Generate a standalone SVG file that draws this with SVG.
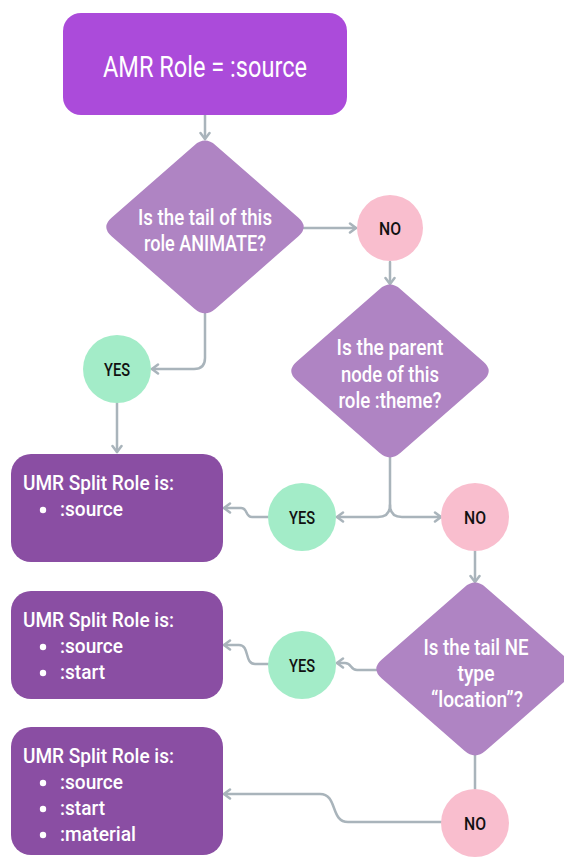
<svg xmlns="http://www.w3.org/2000/svg" width="564" height="857" viewBox="0 0 564 857">
<style>
.conn{fill:none;stroke:#A9B4BB;stroke-width:2.5;stroke-linecap:round;stroke-linejoin:round}
.top{fill:#AB4BDA}
.dia{fill:#AF84C3}
.res{fill:#8A4EA3}
.yes{fill:#A3ECC8}
.no{fill:#F9BECE}
.wt{fill:#FFFFFF;font-family:Roboto,"Liberation Sans",sans-serif;font-size:21.5px;font-weight:500;text-anchor:middle}
.big{font-size:29px;font-weight:400}
.bt{fill:#FFFFFF;font-family:Roboto,"Liberation Sans",sans-serif;font-size:21px;font-weight:500}
.lbl{fill:#111111;font-family:Roboto,"Liberation Sans",sans-serif;font-size:18.5px;font-weight:500;text-anchor:middle}
.dot{fill:#FFFFFF}
</style>
<defs>
<path id="diamond" d="M-10.54,-81.78 Q0,-91 10.54,-81.78 L93.46,-9.22 Q104,0 93.46,9.22 L10.54,81.78 Q0,91 -10.54,81.78 L-93.46,9.22 Q-104,0 -93.46,-9.22 Z"/>
<marker id="arr" markerUnits="userSpaceOnUse" markerWidth="12" markerHeight="12" viewBox="0 0 12 12" refX="10" refY="6" orient="auto">
<path d="M4,1.5 L10,6 L4,10.5" fill="none" stroke="#A9B4BB" stroke-width="2.5" stroke-linecap="round" stroke-linejoin="round"/>
</marker>
</defs>

<g id="connectors">
<path class="conn" d="M205,115 L205,139" marker-end="url(#arr)"/>
<path class="conn" d="M304,228 L356,228" marker-end="url(#arr)"/>
<path class="conn" d="M390,262 L390,284" marker-end="url(#arr)"/>
<path class="conn" d="M205,314 L205,358 Q205,369 194,369 L152,369" marker-end="url(#arr)"/>
<path class="conn" d="M117,403 L117,452" marker-end="url(#arr)"/>
<path class="conn" d="M390,457 L390,505 Q390,517 378,517 L337,517" marker-end="url(#arr)"/>
<path class="conn" d="M390,505 Q390,517 402,517 L441,517" marker-end="url(#arr)"/>
<path class="conn" d="M268,517 L252,517 C245,517 248,508 241,508 L224,508" marker-end="url(#arr)"/>
<path class="conn" d="M475,551 L475,582" marker-end="url(#arr)"/>
<path class="conn" d="M376,670 L357,670 C350,670 352,663 345,663 L337,663" marker-end="url(#arr)"/>
<path class="conn" d="M268,664 L255,664 C244,664 250,645 239,645 L224,645" marker-end="url(#arr)"/>
<path class="conn" d="M475,755 L475,789"/>
<path class="conn" d="M441,822 L348,822 C330,822 338,794 320,794 L224,794" marker-end="url(#arr)"/>
</g>

<g id="start">
<rect class="top" x="63" y="13" width="284" height="102" rx="18"/>
<text class="wt big" x="205" y="77" textLength="204" lengthAdjust="spacingAndGlyphs">AMR Role = :source</text>
</g>

<g id="q1">
<use href="#diamond" class="dia" transform="translate(205,227)"/>
<text class="wt" x="205" y="225" textLength="134" lengthAdjust="spacingAndGlyphs">Is the tail of this</text>
<text class="wt" x="205" y="251" textLength="122" lengthAdjust="spacingAndGlyphs">role ANIMATE?</text>
</g>

<g id="no1">
<circle class="no" cx="390" cy="228" r="33"/>
<text class="lbl" x="390" y="234.5" textLength="22" lengthAdjust="spacingAndGlyphs">NO</text>
</g>

<g id="yes1">
<circle class="yes" cx="117" cy="369" r="34"/>
<text class="lbl" x="117" y="375.5" textLength="26" lengthAdjust="spacingAndGlyphs">YES</text>
</g>

<g id="q2">
<use href="#diamond" class="dia" transform="translate(390,371)"/>
<text class="wt" x="390" y="355" textLength="107" lengthAdjust="spacingAndGlyphs">Is the parent</text>
<text class="wt" x="390" y="382" textLength="98" lengthAdjust="spacingAndGlyphs">node of this</text>
<text class="wt" x="390" y="408" textLength="103" lengthAdjust="spacingAndGlyphs">role :theme?</text>
</g>

<g id="result1">
<rect class="res" x="11" y="454" width="212" height="108" rx="20"/>
<text class="bt" x="23" y="490" textLength="151" lengthAdjust="spacingAndGlyphs">UMR Split Role is:</text>
<circle class="dot" cx="43" cy="510" r="3.2"/>
<text class="bt" x="60" y="516" textLength="63" lengthAdjust="spacingAndGlyphs">:source</text>
</g>

<g id="yes2">
<circle class="yes" cx="302" cy="517" r="34"/>
<text class="lbl" x="302" y="523.5" textLength="26" lengthAdjust="spacingAndGlyphs">YES</text>
</g>

<g id="no2">
<circle class="no" cx="475" cy="517" r="34"/>
<text class="lbl" x="475" y="523.5" textLength="22" lengthAdjust="spacingAndGlyphs">NO</text>
</g>

<g id="q3">
<use href="#diamond" class="dia" transform="translate(475,669)"/>
<text class="wt" x="476" y="655" textLength="105" lengthAdjust="spacingAndGlyphs">Is the tail NE</text>
<text class="wt" x="476" y="681" textLength="37" lengthAdjust="spacingAndGlyphs">type</text>
<text class="wt" x="477" y="707" textLength="92" lengthAdjust="spacingAndGlyphs">“location”?</text>
</g>

<g id="result2">
<rect class="res" x="11" y="591" width="212" height="108" rx="20"/>
<text class="bt" x="23" y="627" textLength="151" lengthAdjust="spacingAndGlyphs">UMR Split Role is:</text>
<circle class="dot" cx="43" cy="647" r="3.2"/>
<text class="bt" x="60" y="653" textLength="63" lengthAdjust="spacingAndGlyphs">:source</text>
<circle class="dot" cx="43" cy="673" r="3.2"/>
<text class="bt" x="60" y="679" textLength="45" lengthAdjust="spacingAndGlyphs">:start</text>
</g>

<g id="yes3">
<circle class="yes" cx="302" cy="665" r="34"/>
<text class="lbl" x="302" y="671.5" textLength="26" lengthAdjust="spacingAndGlyphs">YES</text>
</g>

<g id="no3">
<circle class="no" cx="475" cy="823" r="34"/>
<text class="lbl" x="475" y="829.5" textLength="22" lengthAdjust="spacingAndGlyphs">NO</text>
</g>

<g id="result3">
<rect class="res" x="11" y="727" width="212" height="128" rx="20"/>
<text class="bt" x="23" y="763" textLength="151" lengthAdjust="spacingAndGlyphs">UMR Split Role is:</text>
<circle class="dot" cx="43" cy="783" r="3.2"/>
<text class="bt" x="60" y="789" textLength="63" lengthAdjust="spacingAndGlyphs">:source</text>
<circle class="dot" cx="43" cy="809" r="3.2"/>
<text class="bt" x="60" y="815" textLength="45" lengthAdjust="spacingAndGlyphs">:start</text>
<circle class="dot" cx="43" cy="835" r="3.2"/>
<text class="bt" x="60" y="841" textLength="76" lengthAdjust="spacingAndGlyphs">:material</text>
</g>
</svg>
